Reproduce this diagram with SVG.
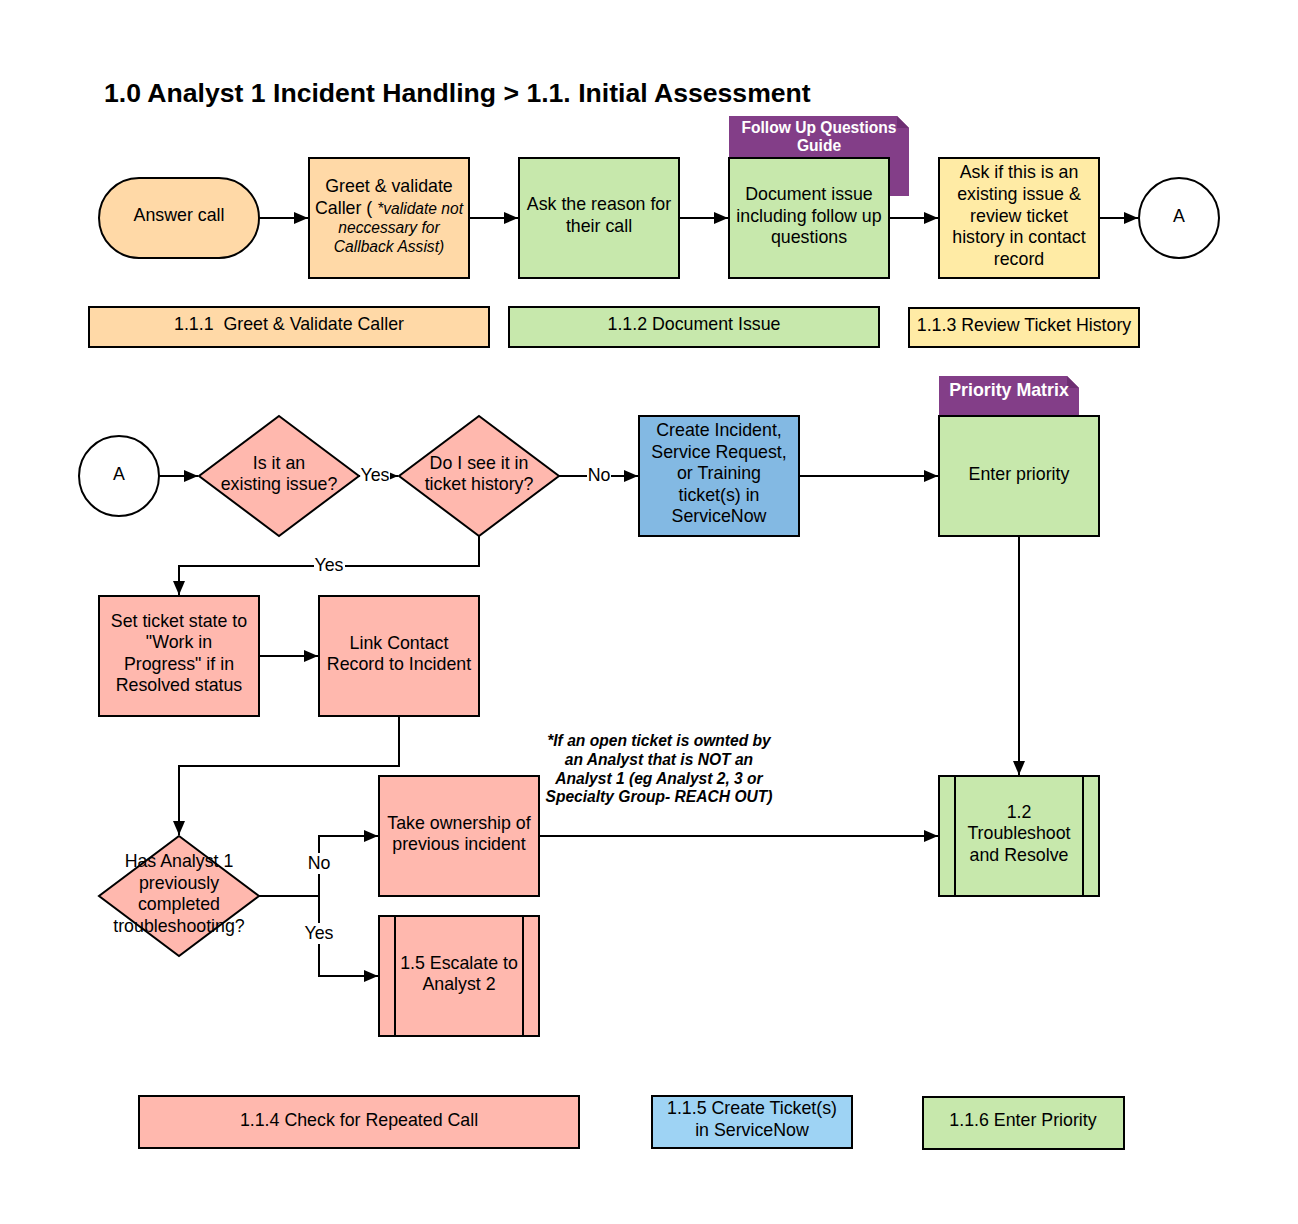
<svg xmlns="http://www.w3.org/2000/svg" width="1298" height="1224" viewBox="0 0 1298 1224">
<style>
  text { font-family: "Liberation Sans", Arial, sans-serif; font-size: 17.8px; fill: #000; text-anchor: middle; }
  .title { font-size: 26.6px; font-weight: bold; text-anchor: start; }
  .box { stroke: #000; stroke-width: 2; }
  .or { fill: #FFD9A7; }
  .gr { fill: #C7E8AC; }
  .ye { fill: #FFEBA5; }
  .pk { fill: #FFB8AE; }
  .bl { fill: #83B9E3; }
  .lb { fill: #9ED3F4; }
  .wh { fill: #fff; }
  .tag { fill: #833E88; }
  .tagt { fill: #fff; font-weight: bold; font-size: 15.6px; }
  .it { font-style: italic; font-size: 15.6px; }
  .note { font-style: italic; font-weight: bold; font-size: 15.6px; }
  .conn { fill: none; stroke: #000; stroke-width: 2; }
  .lbl { fill: #fff; }
</style>
<defs>
  <marker id="arr" markerUnits="userSpaceOnUse" markerWidth="14" markerHeight="12" refX="14" refY="6" orient="auto">
    <path d="M0,0 L14,6 L0,12 z" fill="#000"/>
  </marker>
</defs>
<rect width="1298" height="1224" fill="#fff"/>
<text class="title" x="104" y="102">1.0 Analyst 1 Incident Handling &gt; 1.1. Initial Assessment</text>

<g id="connectors">
  <line class="conn" x1="259" y1="218" x2="308" y2="218" marker-end="url(#arr)"/>
  <line class="conn" x1="469" y1="218" x2="518" y2="218" marker-end="url(#arr)"/>
  <line class="conn" x1="679" y1="218" x2="728" y2="218" marker-end="url(#arr)"/>
  <line class="conn" x1="889" y1="218" x2="938" y2="218" marker-end="url(#arr)"/>
  <line class="conn" x1="1099" y1="218" x2="1138" y2="218" marker-end="url(#arr)"/>
  <line class="conn" x1="159" y1="476" x2="198" y2="476" marker-end="url(#arr)"/>
  <line class="conn" x1="359" y1="476" x2="398" y2="476" marker-end="url(#arr)"/>
  <line class="conn" x1="559" y1="476" x2="638" y2="476" marker-end="url(#arr)"/>
  <line class="conn" x1="799" y1="476" x2="938" y2="476" marker-end="url(#arr)"/>
  <polyline class="conn" points="479,536 479,566 179,566 179,595" marker-end="url(#arr)"/>
  <line class="conn" x1="259" y1="656" x2="318" y2="656" marker-end="url(#arr)"/>
  <polyline class="conn" points="399,716 399,766 179,766 179,835" marker-end="url(#arr)"/>
  <line class="conn" x1="1019" y1="536" x2="1019" y2="775" marker-end="url(#arr)"/>
  <polyline class="conn" points="259,896 319,896 319,836 378,836" marker-end="url(#arr)"/>
  <polyline class="conn" points="319,896 319,976 378,976" marker-end="url(#arr)"/>
  <line class="conn" x1="539" y1="836" x2="938" y2="836" marker-end="url(#arr)"/>
  <rect class="lbl" x="360" y="466" width="30" height="19"/>
  <text x="375" y="481">Yes</text>
  <rect class="lbl" x="587" y="466" width="24" height="19"/>
  <text x="599" y="481">No</text>
  <rect class="lbl" x="314" y="556" width="31" height="19"/>
  <text x="329" y="571">Yes</text>
  <rect class="lbl" x="306" y="853" width="26" height="21"/>
  <text x="319" y="869">No</text>
  <rect class="lbl" x="303" y="923" width="32" height="21"/>
  <text x="319" y="939">Yes</text>
</g>

<g id="answer-call">
  <rect class="box or" x="99" y="178" width="160" height="80" rx="40"/>
  <text x="179" y="221">Answer call</text>
</g>
<g id="greet">
  <rect class="box or" x="309" y="158" width="160" height="120"/>
  <text x="389" y="192">Greet &amp; validate</text>
  <text x="389" y="214">Caller ( <tspan class="it">*validate not</tspan></text>
  <text class="it" x="389" y="233">neccessary for</text>
  <text class="it" x="389" y="252">Callback Assist)</text>
</g>
<g id="ask-reason">
  <rect class="box gr" x="519" y="158" width="160" height="120"/>
  <text x="599" y="210">Ask the reason for</text>
  <text x="599" y="232">their call</text>
</g>
<g id="document-issue">
  <polygon class="tag" points="729,116 897,116 909,128 909,196 729,196"/>
  <polygon fill="#6E2F73" points="897,116 909,128 897,128"/>
  <text class="tagt" x="819" y="133">Follow Up Questions</text>
  <text class="tagt" x="819" y="151">Guide</text>
  <rect class="box gr" x="729" y="158" width="160" height="120"/>
  <text x="809" y="200">Document issue</text>
  <text x="809" y="222">including follow up</text>
  <text x="809" y="243">questions</text>
</g>
<g id="ask-existing">
  <rect class="box ye" x="939" y="158" width="160" height="120"/>
  <text x="1019" y="178">Ask if this is an</text>
  <text x="1019" y="200">existing issue &amp;</text>
  <text x="1019" y="222">review ticket</text>
  <text x="1019" y="243">history in contact</text>
  <text x="1019" y="265">record</text>
</g>
<g id="connector-a-top">
  <circle class="box wh" cx="1179" cy="218" r="40"/>
  <text x="1179" y="222">A</text>
</g>

<g id="legend-111">
  <rect class="box or" x="89" y="307" width="400" height="40"/>
  <text x="289" y="330" xml:space="preserve">1.1.1  Greet &amp; Validate Caller</text>
</g>
<g id="legend-112">
  <rect class="box gr" x="509" y="307" width="370" height="40"/>
  <text x="694" y="330">1.1.2 Document Issue</text>
</g>
<g id="legend-113">
  <rect class="box ye" x="909" y="308" width="230" height="39"/>
  <text x="1024" y="331">1.1.3 Review Ticket History</text>
</g>

<g id="connector-a">
  <circle class="box wh" cx="119" cy="476" r="40"/>
  <text x="119" y="480">A</text>
</g>
<g id="existing-issue">
  <polygon class="box pk" points="279,416 359,476 279,536 199,476"/>
  <text x="279" y="469">Is it an</text>
  <text x="279" y="490">existing issue?</text>
</g>
<g id="ticket-history">
  <polygon class="box pk" points="479,416 559,476 479,536 399,476"/>
  <text x="479" y="469">Do I see it in</text>
  <text x="479" y="490">ticket history?</text>
</g>
<g id="create-incident">
  <rect class="box bl" x="639" y="416" width="160" height="120"/>
  <text x="719" y="436">Create Incident,</text>
  <text x="719" y="458">Service Request,</text>
  <text x="719" y="479">or Training</text>
  <text x="719" y="501">ticket(s) in</text>
  <text x="719" y="522">ServiceNow</text>
</g>
<g id="enter-priority">
  <polygon class="tag" points="939,376 1067,376 1079,388 1079,416 939,416"/>
  <polygon fill="#6E2F73" points="1067,376 1079,388 1067,388"/>
  <text class="tagt" x="1009" y="396" style="font-size:17.8px">Priority Matrix</text>
  <rect class="box gr" x="939" y="416" width="160" height="120"/>
  <text x="1019" y="480">Enter priority</text>
</g>

<g id="set-ticket-state">
  <rect class="box pk" x="99" y="596" width="160" height="120"/>
  <text x="179" y="627">Set ticket state to</text>
  <text x="179" y="648">"Work in</text>
  <text x="179" y="670">Progress" if in</text>
  <text x="179" y="691">Resolved status</text>
</g>
<g id="link-contact">
  <rect class="box pk" x="319" y="596" width="160" height="120"/>
  <text x="399" y="649">Link Contact</text>
  <text x="399" y="670">Record to Incident</text>
</g>

<g id="analyst1-completed">
  <polygon class="box pk" points="179,836 259,896 179,956 99,896"/>
  <text x="179" y="867">Has Analyst 1</text>
  <text x="179" y="889">previously</text>
  <text x="179" y="910">completed</text>
  <text x="179" y="932">troubleshooting?</text>
</g>
<g id="take-ownership">
  <rect class="box pk" x="379" y="776" width="160" height="120"/>
  <text x="459" y="829">Take ownership of</text>
  <text x="459" y="850">previous incident</text>
</g>
<g id="escalate">
  <rect class="box pk" x="379" y="916" width="160" height="120"/>
  <line class="conn" x1="395" y1="916" x2="395" y2="1036"/>
  <line class="conn" x1="523" y1="916" x2="523" y2="1036"/>
  <text x="459" y="969">1.5 Escalate to</text>
  <text x="459" y="990">Analyst 2</text>
</g>
<g id="troubleshoot">
  <rect class="box gr" x="939" y="776" width="160" height="120"/>
  <line class="conn" x1="955" y1="776" x2="955" y2="896"/>
  <line class="conn" x1="1083" y1="776" x2="1083" y2="896"/>
  <text x="1019" y="818">1.2</text>
  <text x="1019" y="839">Troubleshoot</text>
  <text x="1019" y="861">and Resolve</text>
</g>
<g id="note">
  <text class="note" x="659" y="746">*If an open ticket is ownted by</text>
  <text class="note" x="659" y="765">an Analyst that is NOT an</text>
  <text class="note" x="659" y="784">Analyst 1 (eg Analyst 2, 3 or</text>
  <text class="note" x="659" y="802">Specialty Group- REACH OUT)</text>
</g>

<g id="legend-114">
  <rect class="box pk" x="139" y="1096" width="440" height="52"/>
  <text x="359" y="1126">1.1.4 Check for Repeated Call</text>
</g>
<g id="legend-115">
  <rect class="box lb" x="652" y="1096" width="200" height="52"/>
  <text x="752" y="1114">1.1.5 Create Ticket(s)</text>
  <text x="752" y="1136">in ServiceNow</text>
</g>
<g id="legend-116">
  <rect class="box gr" x="923" y="1097" width="201" height="52"/>
  <text x="1023" y="1126">1.1.6 Enter Priority</text>
</g>
</svg>
